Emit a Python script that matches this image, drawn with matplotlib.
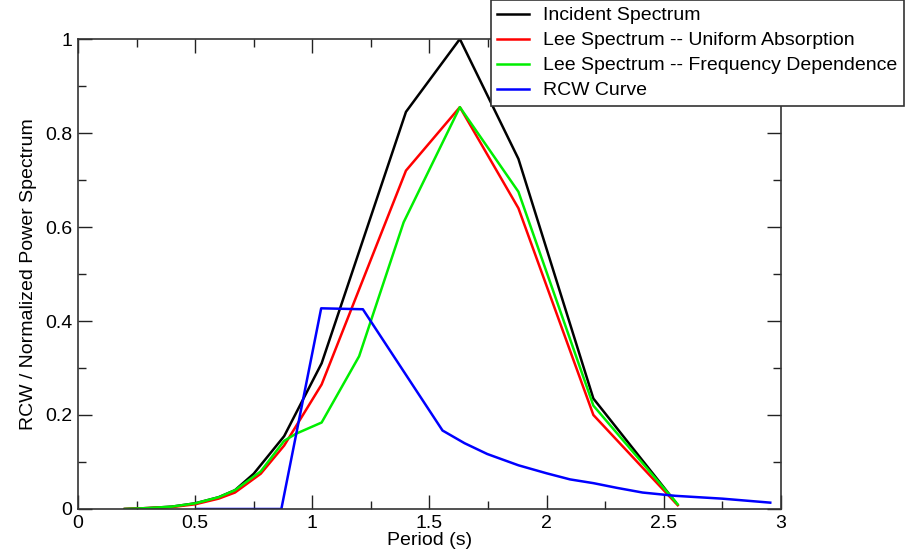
import matplotlib
matplotlib.use("Agg")
import matplotlib.pyplot as plt          # noqa: E402
from matplotlib.ticker import MultipleLocator   # noqa: E402

plt.rcParams["font.family"] = ["Liberation Sans", "DejaVu Sans"]

# Incident spectrum
inc_t = [0.2, 0.3, 0.4, 0.5, 0.6, 0.67, 0.75, 0.88, 1.04, 1.4, 1.63, 1.88, 2.2, 2.55]
inc_p = [0.0, 0.002, 0.005, 0.012, 0.025, 0.04, 0.075, 0.155, 0.31, 0.845, 1.0, 0.745, 0.235, 0.015]

# Lee spectrum, uniform absorption
uni_t = [0.2, 0.3, 0.4, 0.5, 0.6, 0.67, 0.78, 0.88, 1.04, 1.4, 1.63, 1.88, 2.2, 2.56]
uni_p = [0.0, 0.002, 0.004, 0.01, 0.022, 0.035, 0.075, 0.135, 0.265, 0.72, 0.855, 0.64, 0.2, 0.008]

# Lee spectrum, frequency dependence
frq_t = [0.2, 0.3, 0.4, 0.5, 0.6, 0.67, 0.78, 0.88, 0.93, 1.04, 1.2, 1.39, 1.63, 1.88, 2.2, 2.56]
frq_p = [0.0, 0.002, 0.005, 0.012, 0.025, 0.04, 0.08, 0.145, 0.16, 0.184, 0.325, 0.61, 0.855, 0.675, 0.22, 0.01]

# RCW curve
rcw_t = [0.51, 0.868, 1.038, 1.216, 1.556, 1.65, 1.747, 1.88, 2.0, 2.1, 2.2, 2.3,
         2.41, 2.55, 2.75, 2.955]
rcw_p = [0.0, 0.0, 0.427, 0.425, 0.167, 0.14, 0.117, 0.093, 0.076, 0.063, 0.055, 0.045,
         0.035, 0.028, 0.022, 0.0135]

fig = plt.figure(figsize=(9.06, 5.55), dpi=100)
ax = fig.add_axes([0.0861, 0.0829, 0.7757, 0.8468])

lw = 1.8
ax.plot(inc_t, inc_p, color="black", lw=lw, label="Incident Spectrum")
ax.plot(uni_t, uni_p, color="#ff0000", lw=lw, label="Lee Spectrum -- Uniform Absorption")
ax.plot(frq_t, frq_p, color="#00ee00", lw=lw, label="Lee Spectrum -- Frequency Dependence")
ax.plot(rcw_t, rcw_p, color="#0000ff", lw=lw, label="RCW Curve")

ax.set_xlim(0, 3)
ax.set_ylim(0, 1)
ax.xaxis.set_major_locator(MultipleLocator(0.5))
ax.xaxis.set_minor_locator(MultipleLocator(0.25))
ax.yaxis.set_major_locator(MultipleLocator(0.2))
ax.yaxis.set_minor_locator(MultipleLocator(0.1))
ax.xaxis.set_major_formatter(plt.FuncFormatter(lambda v, p: "%g" % v))
ax.yaxis.set_major_formatter(plt.FuncFormatter(lambda v, p: "%g" % v))
ax.tick_params(which="both", direction="in", top=True, right=True,
               labelsize=14, width=1.0, color="#222222")
ax.tick_params(which="major", length=10, pad=4)
ax.tick_params(which="minor", length=5.5)
for s in ax.spines.values():
    s.set_linewidth(1.2)
    s.set_color("#333333")

ax.set_xlabel("Period (s)", fontsize=14, labelpad=0)
ax.set_ylabel("RCW / Normalized Power Spectrum", fontsize=14, labelpad=6)

leg = fig.legend(loc="upper right", bbox_to_anchor=(0.998, 1.0), fontsize=14,
                 frameon=True, fancybox=False, framealpha=1, edgecolor="#333333",
                 handlelength=1.6, handletextpad=0.75, borderpad=0.35,
                 labelspacing=0.38, borderaxespad=0)
leg.get_frame().set_linewidth(1.2)

fig.savefig("out.png", dpi=100)
